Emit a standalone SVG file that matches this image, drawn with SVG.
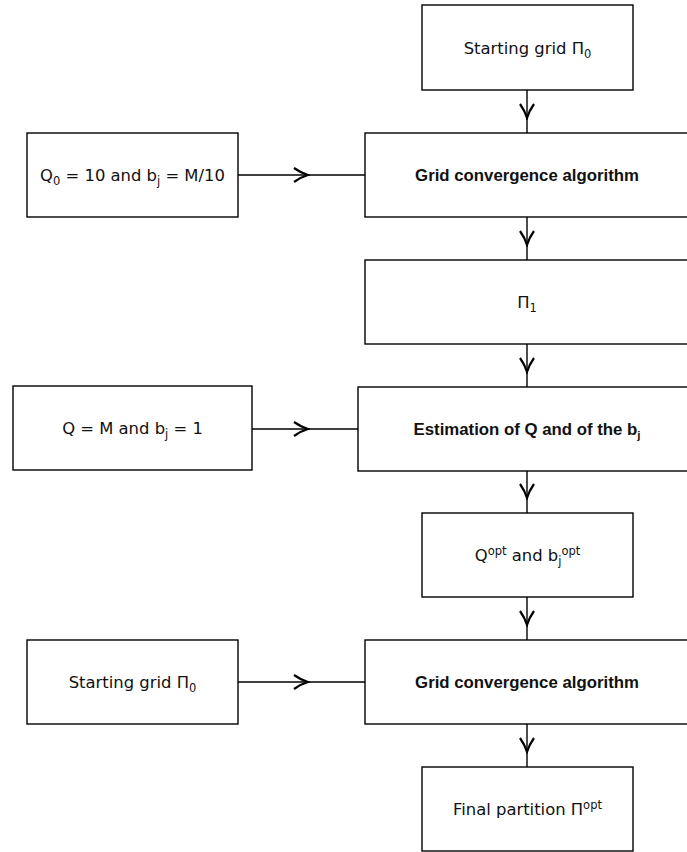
<svg xmlns="http://www.w3.org/2000/svg" width="687" height="852" viewBox="0 0 687 852">
<defs>
<style>
.box{fill:#fff;stroke:#000;stroke-width:1.4}
.t{font-family:"DejaVu Sans",Verdana,sans-serif;font-size:16.4px;fill:#111;text-anchor:middle}
.b{font-family:"Liberation Sans",Arial,sans-serif;font-size:16.8px;font-weight:bold;fill:#111;text-anchor:middle}
.s{font-size:11.5px}
.e{fill:none;stroke:#000;stroke-width:1.4;marker-mid:url(#v)}
</style>
<marker id="v" markerUnits="userSpaceOnUse" viewBox="-16 -9 18 18" refX="0" refY="0" markerWidth="18" markerHeight="18" orient="auto">
<path d="M-14,-7 Q-7,-2 0,0 Q-7,2 -14,7" fill="none" stroke="#000" stroke-width="2.2"/>
</marker>
</defs>
<g id="connectors">
<path class="e" d="M527,90 L527,118 L527,133"/>
<path class="e" d="M527,217 L527,245 L527,260"/>
<path class="e" d="M527,344 L527,372 L527,387"/>
<path class="e" d="M527,471 L527,498 L527,513"/>
<path class="e" d="M527,597 L527,625 L527,640"/>
<path class="e" d="M527,724 L527,752 L527,767"/>
<path class="e" d="M238,175 L308,175 L365,175"/>
<path class="e" d="M252,429 L308,429 L358,429"/>
<path class="e" d="M238,682 L308,682 L365,682"/>
</g>
<g id="n1"><rect class="box" x="422" y="5" width="211" height="85"/><text class="t" x="527.5" y="53.5">Starting grid Π<tspan class="s" dy="4">0</tspan></text></g>
<g id="n2"><rect class="box" x="365" y="133" width="330" height="84"/><text class="b" x="527" y="181">Grid convergence algorithm</text></g>
<g id="n3"><rect class="box" x="365" y="260" width="330" height="84"/><text class="t" x="527" y="308">Π<tspan class="s" dy="4">1</tspan></text></g>
<g id="n4"><rect class="box" x="27" y="133" width="211" height="84"/><text class="t" x="132.5" y="181">Q<tspan class="s" dy="4">0</tspan><tspan dy="-4"> = 10 and b</tspan><tspan class="s" dy="4">j</tspan><tspan dy="-4"> = M/10</tspan></text></g>
<g id="n5"><rect class="box" x="13" y="386" width="239" height="84"/><text class="t" x="132.5" y="434">Q = M and b<tspan class="s" dy="4">j</tspan><tspan dy="-4"> = 1</tspan></text></g>
<g id="n6"><rect class="box" x="358" y="387" width="340" height="84"/><text class="b" x="527" y="435">Estimation of Q and of the b<tspan class="s" dy="4">j</tspan></text></g>
<g id="n7"><rect class="box" x="422" y="513" width="211" height="84"/><text class="t" x="527.5" y="561">Q<tspan class="s" dy="-6">opt</tspan><tspan dy="6"> and b</tspan><tspan class="s" dy="4">j</tspan><tspan class="s" dy="-10">opt</tspan></text></g>
<g id="n8"><rect class="box" x="27" y="640" width="211" height="84"/><text class="t" x="132.5" y="688">Starting grid Π<tspan class="s" dy="4">0</tspan></text></g>
<g id="n9"><rect class="box" x="365" y="640" width="330" height="84"/><text class="b" x="527" y="688">Grid convergence algorithm</text></g>
<g id="n10"><rect class="box" x="422" y="767" width="211" height="84"/><text class="t" x="527.5" y="815">Final partition Π<tspan class="s" dy="-6">opt</tspan></text></g>
</svg>
